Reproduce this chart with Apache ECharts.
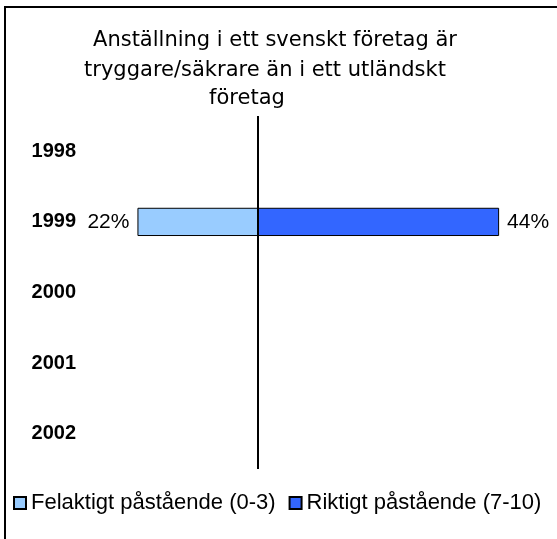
<!DOCTYPE html>
<html>
<head>
<meta charset="utf-8">
<script src="https://cdn.jsdelivr.net/npm/echarts@6/dist/echarts.min.js"></script>
<style>
  html, body { margin: 0; padding: 0; background: #fff; }
  #frame { position: absolute; left: 4px; top: 6px; width: 600px; height: 600px;
           border-left: 2px solid #000; border-top: 2px solid #000; }
  #chart { position: absolute; left: 0; top: 0; width: 557px; height: 539px; }
</style>
</head>
<body>
<div id="frame"></div>
<div id="chart"></div>
<script>
  // kategorier (år) och andelar i procent
  var years = ['1998', '1999', '2000', '2001', '2002'];
  var felaktigt = [null, 22, null, null, null];   // Felaktigt påstående (0-3)
  var riktigt = [null, 44, null, null, null];     // Riktigt påstående (7-10)
  var titleLines = ['Anställning i ett svenskt företag är', 'tryggare/säkrare än i ett utländskt', 'företag'];

  var chart = echarts.init(document.getElementById('chart'));
  var titleFont = { fontFamily: 'DejaVu Sans', fontSize: 21, fontWeight: 'normal', color: '#000' };
  var titleX = [270, 260, 242];
  var titleY = [25, 55, 83];

  chart.setOption({
    animation: false,
    title: titleLines.map(function (t, i) {
      return { text: t, left: titleX[i], top: titleY[i], textAlign: 'center', textStyle: titleFont };
    }),
    legend: {
      data: ['Felaktigt påstående (0-3)', 'Riktigt påstående (7-10)'],
      left: 8,
      top: 487,
      icon: 'rect',
      itemWidth: 12,
      itemHeight: 12,
      itemGap: 13,
      textStyle: { fontFamily: 'Liberation Sans, Arial', fontSize: 22, color: '#000' }
    },
    grid: { left: 121, right: 25, top: 116, bottom: 70 },
    xAxis: {
      type: 'value',
      min: -25,
      max: 50,
      show: false
    },
    yAxis: {
      type: 'category',
      inverse: true,
      data: years,
      axisLine: { show: false },
      axisTick: { show: false },
      axisLabel: {
        margin: 45,
        fontFamily: 'Liberation Sans, Arial',
        fontSize: 20,
        fontWeight: 'bold',
        color: '#000'
      },
      splitLine: { show: false }
    },
    series: [
      {
        name: 'Felaktigt påstående (0-3)',
        type: 'bar',
        barWidth: '40%',
        barGap: '-100%',
        data: felaktigt.map(function (v) { return v == null ? null : -v; }),
        itemStyle: { color: '#99CCFF', borderColor: '#000', borderWidth: 1 },
        label: {
          show: true,
          position: 'left',
          distance: 8,
          formatter: function (p) { return Math.abs(p.value) + '%'; },
          fontFamily: 'Liberation Sans, Arial',
          fontSize: 21,
          color: '#000'
        },
        markLine: {
          silent: true,
          symbol: 'none',
          label: { show: false },
          lineStyle: { color: '#000', width: 2, type: 'solid' },
          data: [{ xAxis: 0 }]
        }
      },
      {
        name: 'Riktigt påstående (7-10)',
        type: 'bar',
        barWidth: '40%',
        data: riktigt,
        itemStyle: { color: '#3366FF', borderColor: '#000', borderWidth: 1 },
        label: {
          show: true,
          position: 'right',
          distance: 8,
          formatter: '{c}%',
          fontFamily: 'Liberation Sans, Arial',
          fontSize: 21,
          color: '#000'
        }
      }
    ]
  });
</script>
</body>
</html>
